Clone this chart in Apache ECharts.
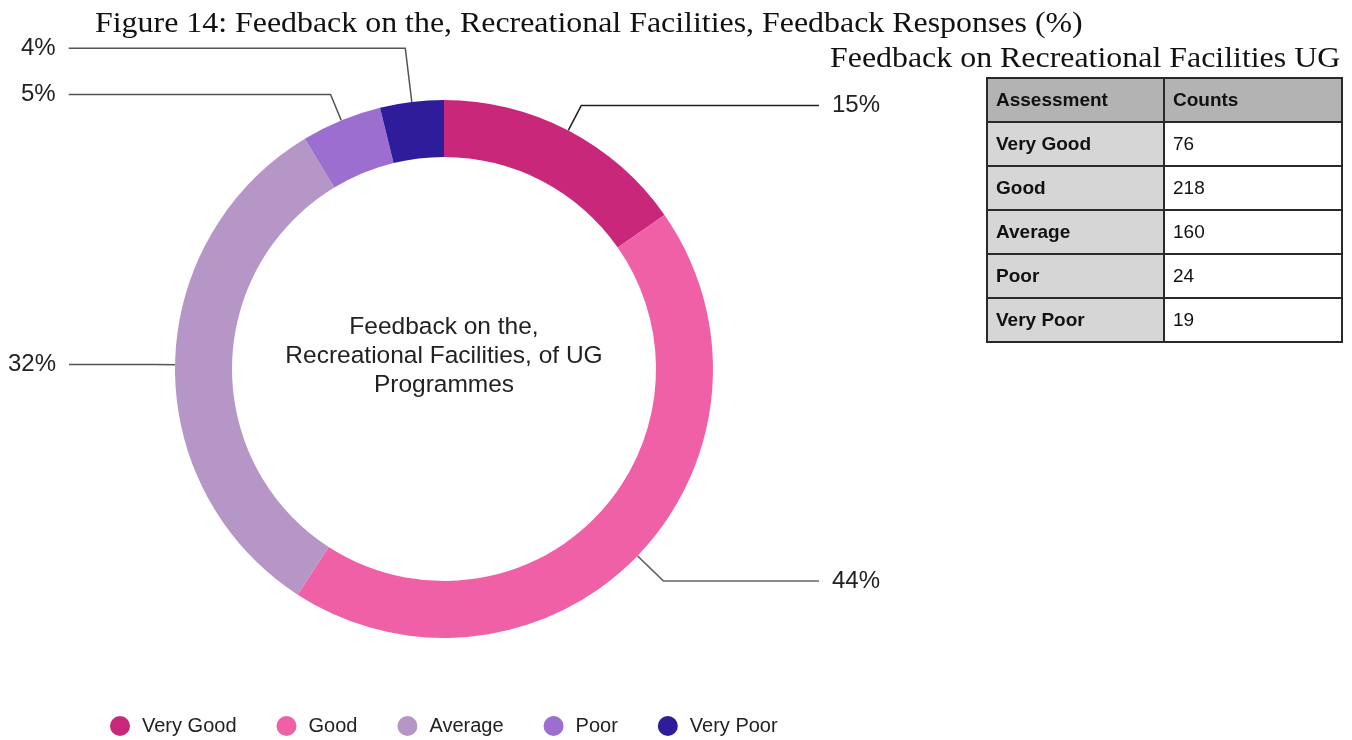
<!DOCTYPE html>
<html>
<head>
<meta charset="utf-8">
<script src="https://cdn.jsdelivr.net/npm/echarts@6/dist/echarts.min.js"></script>
<style>
  body { margin: 0; background: #fff; }
  #chart { width: 1352px; height: 740px; }
  .title { position: absolute; font-family: "Liberation Serif", serif; font-size: 29px; color: #111;
           white-space: nowrap; transform: scaleX(1.1); transform-origin: left top; line-height: 33px; }
  #fig { left: 95px; top: 6px; }
  #tabTitle { left: 830px; top: 41px; }
  #tbl { position: absolute; left: 986px; top: 77px; border-collapse: collapse;
         font-family: "Liberation Sans", Arial, sans-serif; font-size: 19px; color: #111; }
  #tbl td, #tbl th { border: 2px solid #2a2a2a; height: 42px; padding: 0 0 0 8px; text-align: left; }
  #tbl th { background: #b3b3b3; font-weight: bold; }
  #tbl td.c1 { background: #d6d6d6; font-weight: bold; width: 167px; }
  #tbl td.c2 { background: #fff; width: 168px; }
</style>
</head>
<body>
<div id="chart"></div>
<div class="title" id="fig">Figure 14: Feedback on the, Recreational Facilities, Feedback Responses (%)</div>
<div class="title" id="tabTitle">Feedback on Recreational Facilities UG</div>
<table id="tbl"></table>
<script>
var categories = ['Very Good', 'Good', 'Average', 'Poor', 'Very Poor'];
var counts = [76, 218, 160, 24, 19];
var colors = ['#c9287a', '#ef60a7', '#b596c7', '#9c6ecf', '#2e1c9b'];
// label line styling per slice
var lineLengths = [28, 36, 20, 28, 54];
var labelEdge = [0, 0, 0, 13, 13];
var lineColors = ['#222', '#666', '#555', '#555', '#555'];
var tableHeader = ['Assessment', 'Counts'];

// table next to the chart
var tbl = document.getElementById('tbl');
var html = '<tr><th>' + tableHeader[0] + '</th><th>' + tableHeader[1] + '</th></tr>';
categories.forEach(function (c, i) {
  html += '<tr><td class="c1">' + c + '</td><td class="c2">' + counts[i] + '</td></tr>';
});
tbl.innerHTML = html;

var myChart = echarts.init(document.getElementById('chart'));
var option = {
  color: colors,
  legend: {
    left: 110,
    top: 716,
    padding: 0,
    icon: 'circle',
    itemWidth: 20,
    itemHeight: 20,
    itemGap: 40,
    textStyle: { fontSize: 20, color: '#222', fontFamily: 'Liberation Sans, Arial', padding: [0, 0, 0, 7] },
    data: categories
  },
  graphic: [{
    type: 'text',
    x: 444,
    y: 356,
    style: {
      text: 'Feedback on the,\nRecreational Facilities, of UG\nProgrammes',
      align: 'center',
      verticalAlign: 'middle',
      fill: '#222',
      font: '24.5px "Liberation Sans", Arial',
      lineHeight: 29
    }
  }],
  series: [{
    type: 'pie',
    left: 8,
    right: 472,
    top: 0,
    height: 738,
    center: ['50%', '50%'],
    radius: [212, 269],
    startAngle: 90,
    clockwise: true,
    avoidLabelOverlap: true,
    label: {
      show: true,
      formatter: function (p) { return Math.round(p.percent) + '%'; },
      alignTo: 'edge',
      edgeDistance: 0,
      distanceToLabelLine: 13,
      fontSize: 24,
      color: '#222',
      fontFamily: 'Liberation Sans, Arial'
    },
    labelLine: {
      show: true,
      length: 30,
      length2: 10,
      lineStyle: { color: '#555', width: 1.5 }
    },
    emphasis: { disabled: true },
    data: categories.map(function (c, i) {
      return {
        name: c,
        value: counts[i],
        label: { edgeDistance: labelEdge[i] },
        labelLine: { length: lineLengths[i], lineStyle: { color: lineColors[i] } }
      };
    })
  }]
};
myChart.setOption(option);
</script>
</body>
</html>
